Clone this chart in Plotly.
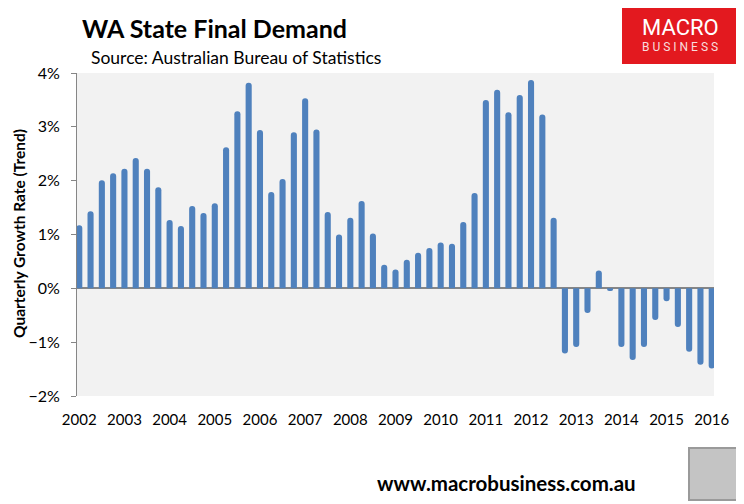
import plotly.graph_objects as go

# quarterly growth, WA state final demand (trend), % per quarter
quarters = list(range(57))
growth = [
    1.17, 1.43, 2.01, 2.14, 2.22, 2.42, 2.22, 1.88, 1.27, 1.16,
    1.53, 1.40, 1.58, 2.62, 3.29, 3.82, 2.94, 1.79, 2.03, 2.90,
    3.53, 2.95, 1.42, 1.00, 1.31, 1.62, 1.02, 0.44, 0.35, 0.53,
    0.66, 0.75, 0.85, 0.83, 1.23, 1.77, 3.50, 3.69, 3.27, 3.59,
    3.87, 3.23, 1.31, -1.21, -1.09, -0.46, 0.33, -0.05, -1.09, -1.33,
    -1.09, -0.59, -0.24, -0.72, -1.18, -1.42, -1.49,
]
year_ticks = list(range(0, 57, 4))
year_labels = [str(y) for y in range(2002, 2017)]

FONT = 'Lato'
BLUE = '#4f81bd'
AXIS_GREY = '#868686'

# the page puts the figure 8px in from the top-left corner, so work in
# page pixels and shift back by that offset
OFF = 8
W, H = 744, 504
L, R, T, B = 77 - OFF, 714 - OFF, 73 - OFF, 396 - OFF


def px_x(p):
    return (p - OFF - L) / (R - L)


def px_y(p):
    return (B - (p - OFF)) / (B - T)


fig = go.Figure()
fig.add_trace(go.Bar(
    x=quarters, y=growth,
    marker=dict(color=BLUE, line=dict(width=0), cornerradius=3),
    width=0.54,
    hoverinfo='skip',
))

fig.update_layout(
    width=W, height=H,
    margin=dict(l=L, r=W - R, t=T, b=H - B, pad=0),
    paper_bgcolor='white',
    plot_bgcolor='#f2f2f2',
    showlegend=False,
    font=dict(family=FONT, size=15, color='#000000'),
)

fig.update_xaxes(
    range=[-0.2, 56.2],
    tickvals=year_ticks, ticktext=year_labels,
    ticks='outside', ticklen=10, tickcolor='rgba(0,0,0,0)',
    showgrid=False, showline=False, zeroline=False,
    tickfont=dict(family=FONT, size=15),
)
fig.update_yaxes(
    range=[-2, 4], dtick=1, ticksuffix='%',
    ticks='outside', ticklen=5, tickcolor=AXIS_GREY,
    showline=True, linecolor=AXIS_GREY, linewidth=1,
    showgrid=False,
    zeroline=True, zerolinecolor=AXIS_GREY, zerolinewidth=1.5,
    tickfont=dict(family=FONT, size=16),
    ticklabelstandoff=8,
)

annotations = [
    dict(text='<b>WA State Final Demand</b>', x=px_x(80), y=px_y(28),
         xanchor='left', yanchor='middle', font=dict(size=25, family=FONT)),
    dict(text='Source: Australian Bureau of Statistics', x=px_x(89), y=px_y(57),
         xanchor='left', yanchor='middle', font=dict(size=17.5, family=FONT)),
    dict(text='<b>Quarterly Growth Rate (Trend)</b>', x=px_x(19), y=px_y(234),
         xanchor='center', yanchor='middle', textangle=-90,
         font=dict(size=15.5, family=FONT)),
    dict(text='<b>www.macrobusiness.com.au</b>', x=px_x(375), y=px_y(483),
         xanchor='left', yanchor='middle', font=dict(size=20.5, family=FONT)),
    dict(text='MACRO', x=px_x(680), y=px_y(28), xanchor='center', yanchor='middle',
         font=dict(size=22, family='Roboto', color='white')),
    dict(text='B U S I N E S S', x=px_x(680), y=px_y(47), xanchor='center', yanchor='middle',
         font=dict(size=12, family='Roboto', color='#f8dede')),
]
for a in annotations:
    a.update(xref='paper', yref='paper', showarrow=False)
fig.update_layout(annotations=annotations)

fig.add_shape(type='rect', xref='paper', yref='paper',
              x0=px_x(622), x1=px_x(736), y0=px_y(8), y1=px_y(64),
              fillcolor='#e3191f', line=dict(width=0), layer='below')
fig.add_shape(type='rect', xref='paper', yref='paper',
              x0=px_x(689), x1=px_x(737), y0=px_y(448), y1=px_y(500),
              fillcolor='#c4c4c4', line=dict(color='#9a9a9a', width=2), layer='above')

fig.write_html('out.html')
